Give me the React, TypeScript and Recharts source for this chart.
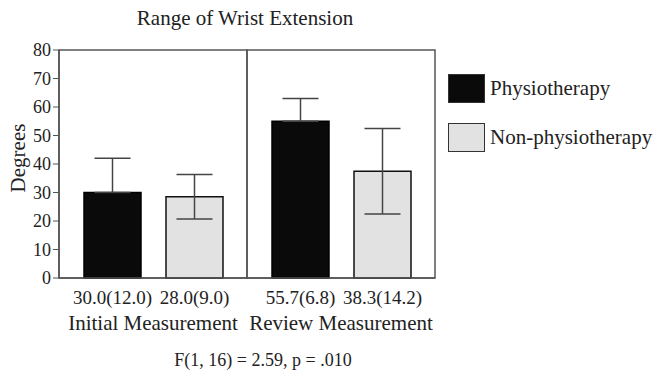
import React from 'react';
import { BarChart, Bar, XAxis, YAxis, ErrorBar, ReferenceArea } from 'recharts';

const categories = ['Initial Measurement', 'Review Measurement'];
const physio = [30, 55];
const nonPhysio = [28.5, 37.5];
const physioErr = [12, 8];
const nonPhysioErr = [7.8, 15];
const physioLabels = ['30.0(12.0)', '55.7(6.8)'];
const nonPhysioLabels = ['28.0(9.0)', '38.3(14.2)'];
const yTicks = [0, 10, 20, 30, 40, 50, 60, 70, 80];
const seriesNames = ['Physiotherapy', 'Non-physiotherapy'];

const data = categories.map((c, i) => ({
  name: c,
  physio: physio[i],
  nonPhysio: nonPhysio[i],
  // black bar only shows the upper whisker
  physioErr: [0, physioErr[i]],
  nonPhysioErr: nonPhysioErr[i],
}));

const font = '"Liberation Serif", "Times New Roman", serif';
const ink = '#222';
const line = '#555';
const fills = ['#0a0a0a', '#e2e2e2'];

const CategoryTick = (props: any) => {
  const { x, y, payload } = props;
  return (
    <text x={x} y={y + 44} textAnchor="middle" fontFamily={font} fontSize={21} fill={ink}>
      {payload.value}
    </text>
  );
};

// mean(sd) text printed under each bar
const summaryLabel = (labels: string[]) => (props: any) => {
  const { x, y, width, height, index } = props;
  return (
    <text x={x + width / 2} y={y + height + 26} textAnchor="middle" fontFamily={font} fontSize={19} fill={ink}>
      {labels[index]}
    </text>
  );
};

const DegreesLabel = (props: any) => {
  const { viewBox } = props;
  const cx = viewBox.x - 1;
  const cy = viewBox.y + viewBox.height / 2 - 6;
  return (
    <text x={cx} y={cy} transform={`rotate(-90 ${cx} ${cy})`} textAnchor="middle" dominantBaseline="central"
      fontFamily={font} fontSize={21} fill={ink}>
      Degrees
    </text>
  );
};

const LegendBox = () => (
  <div style={{ position: 'absolute', left: 448, top: 74, fontFamily: font, fontSize: 21, color: ink }}>
    {seriesNames.map((name, i) => (
      <div key={name} style={{ display: 'flex', alignItems: 'center', height: 29, marginBottom: 20 }}>
        <div style={{ width: 35, height: 27, background: fills[i], border: '1px solid #333', marginRight: 5 }} />
        <span>{name}</span>
      </div>
    ))}
  </div>
);

export default function App() {
  return (
    <div style={{ position: 'absolute', left: 0, top: 0, width: 658, height: 372, background: '#fff', overflow: 'hidden' }}>
      <div
        style={{
          position: 'absolute', left: 0, width: 490, top: 6, textAlign: 'center',
          fontFamily: font, fontSize: 21, color: ink,
        }}
      >
        Range of Wrist Extension
      </div>
      <BarChart
        width={658}
        height={372}
        data={data}
        margin={{ top: 50, right: 223, bottom: 34, left: 19 }}
        barCategoryGap={23}
        barGap={25}
      >
        <XAxis
          dataKey="name"
          tick={<CategoryTick />}
          tickLine={false}
          axisLine={{ stroke: line, strokeWidth: 1.5 }}
          height={60}
          interval={0}
        />
        <YAxis
          domain={[0, 80]}
          ticks={yTicks}
          interval={0}
          width={40}
          tickSize={6}
          tickLine={{ stroke: line }}
          axisLine={{ stroke: line, strokeWidth: 1.5 }}
          tick={{ fontFamily: font, fontSize: 18, fill: ink }}
          label={<DegreesLabel />}
        />
        <ReferenceArea x1={categories[0]} x2={categories[0]} y1={0} y2={80} fill="none" stroke={line} strokeWidth={1.5} />
        <ReferenceArea x1={categories[1]} x2={categories[1]} y1={0} y2={80} fill="none" stroke={line} strokeWidth={1.5} />
        <Bar dataKey="physio" barSize={57} fill={fills[0]} stroke="#000" strokeWidth={1.5} isAnimationActive={false}
          label={summaryLabel(physioLabels)}>
          <ErrorBar dataKey="physioErr" width={18} stroke="#444" strokeWidth={1.5} direction="y" />
        </Bar>
        <Bar dataKey="nonPhysio" barSize={57} fill={fills[1]} stroke="#111" strokeWidth={1.5} isAnimationActive={false}
          label={summaryLabel(nonPhysioLabels)}>
          <ErrorBar dataKey="nonPhysioErr" width={18} stroke="#444" strokeWidth={1.5} direction="y" />
        </Bar>
      </BarChart>
      <LegendBox />
      <div
        style={{
          position: 'absolute', left: 0, width: 526, top: 351, textAlign: 'center',
          fontFamily: font, fontSize: 18, lineHeight: '19px', color: ink,
        }}
      >
        F(1, 16) = 2.59, p = .010
      </div>
    </div>
  );
}
